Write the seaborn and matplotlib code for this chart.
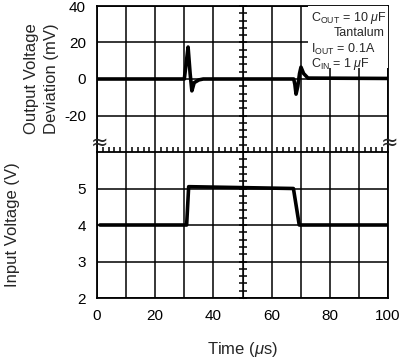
import numpy as np
import matplotlib
matplotlib.use("Agg")
import matplotlib.pyplot as plt
import seaborn as sns
from matplotlib.ticker import MultipleLocator, FuncFormatter

# output voltage deviation (mV) vs time (us)
t_out = [0, 30.0, 30.6, 31.3, 32.0, 32.6, 33.4, 35.0, 36.5, 67.6, 68.0, 68.4, 69.0, 69.6, 70.1, 71.0, 72.5, 100]
v_out = [0, 0, 8, 17.5, 3, -6.5, -2, -0.5, 0, 0, -3, -8.3, -4, 3, 6.5, 3, 0.5, 0.3]

# input voltage (V) vs time (us)
t_in = [1, 30.8, 31.5, 67.5, 69.5, 100]
v_in = [4.0, 4.0, 5.05, 5.0, 4.0, 4.0]

x_ticks = [0, 20, 40, 60, 80, 100]
top_ticks = [-20, 0, 20, 40]
bot_ticks = [2, 3, 4, 5]

sns.set_style("white")
plt.rcParams['font.family'] = ['Liberation Sans', 'DejaVu Sans']
plt.rcParams['mathtext.fontset'] = 'custom'
plt.rcParams['mathtext.rm'] = 'Liberation Sans'
plt.rcParams['mathtext.it'] = 'Liberation Sans:italic'

fig = plt.figure(figsize=(4.0, 3.59), dpi=100)
left, right = 97 / 400, 388 / 400
y_top, y_mid, y_bot = 1 - 6 / 359, 1 - 152 / 359, 1 - 298 / 359
ax1 = fig.add_axes([left, y_mid, right - left, y_top - y_mid])
ax2 = fig.add_axes([left, y_bot, right - left, y_mid - y_bot])

sns.lineplot(x=t_out, y=v_out, ax=ax1, color='black', lw=2.6, sort=False)
sns.lineplot(x=t_in, y=v_in, ax=ax2, color='black', lw=2.6, sort=False)

for ax in (ax1, ax2):
    ax.set_xlim(0, 100)
    ax.xaxis.set_major_locator(MultipleLocator(10))
    ax.grid(True, color='black', lw=1.1)
    for s in ax.spines.values():
        s.set_color('black')
        s.set_linewidth(1.3)
    ax.tick_params(which='major', length=0, labelsize=11, pad=8, colors='black')
    ax.set_xlabel('')
    ax.set_ylabel('')

ax1.set_ylim(-40, 40)
ax1.set_yticks(top_ticks)
ax1.yaxis.set_major_formatter(FuncFormatter(lambda v, p: f"{v:g}"))
ax1.set_xticklabels([])
ax1.spines['bottom'].set_visible(False)
ax1.xaxis.set_minor_locator(MultipleLocator(2))
ax1.tick_params(which='minor', bottom=True, direction='inout', length=7, width=1.1, color='black')

ax2.set_ylim(2, 6)
ax2.set_yticks(bot_ticks)
ax2.xaxis.set_major_formatter(FuncFormatter(lambda v, p: f"{v:g}" if v in x_ticks else ""))

# centre axis with minor ticks
for ax, step in ((ax1, 4), (ax2, 0.2)):
    sec = ax.secondary_yaxis(0.5)
    sec.spines['left'].set_linewidth(1.3)
    sec.set_yticks([])
    sec.yaxis.set_minor_locator(MultipleLocator(step))
    sec.tick_params(which='minor', direction='inout', length=6, width=1.1, color='black', labelleft=False)

ax1.set_ylabel("Output Voltage\nDeviation (mV)", fontsize=12, linespacing=1.4)
ax2.set_ylabel("Input Voltage (V)", fontsize=12)
ax1.yaxis.label.set_va('center')
ax2.yaxis.label.set_va('center')
ax1.yaxis.set_label_coords(-0.192, 0.5)
ax2.yaxis.set_label_coords(-0.29, 0.5)
ax2.set_xlabel(r"Time ($\mu$s)", fontsize=12, labelpad=12)

# annotation box
fig.patches.append(plt.Rectangle((308 / 400, 1 - 68 / 359), 80 / 400, 62 / 359,
                                 transform=fig.transFigure, facecolor='white', edgecolor='none', zorder=3))
tx = 311 / 400
fs = 9
fig.text(tx, 1 - 18 / 359, r"C$_{\mathrm{OUT}}$ = 10 $\mu$F", fontsize=fs, va='center', zorder=4)
fig.text(385 / 400, 1 - 33 / 359, "Tantalum", fontsize=fs, va='center', ha='right', zorder=4)
fig.text(tx, 1 - 49 / 359, r"I$_{\mathrm{OUT}}$ = 0.1A", fontsize=fs, va='center', zorder=4)
fig.text(tx, 1 - 64 / 359, r"C$_{\mathrm{IN}}$ = 1 $\mu$F", fontsize=fs, va='center', zorder=4)

# axis break marks
fig.text(100 / 400, 1 - 143 / 359, "\u2248", fontsize=15, ha='center', va='center', family='DejaVu Sans')
fig.text(390 / 400, 1 - 143 / 359, "\u2248", fontsize=15, ha='center', va='center', family='DejaVu Sans')

fig.savefig("out.png", dpi=100)
